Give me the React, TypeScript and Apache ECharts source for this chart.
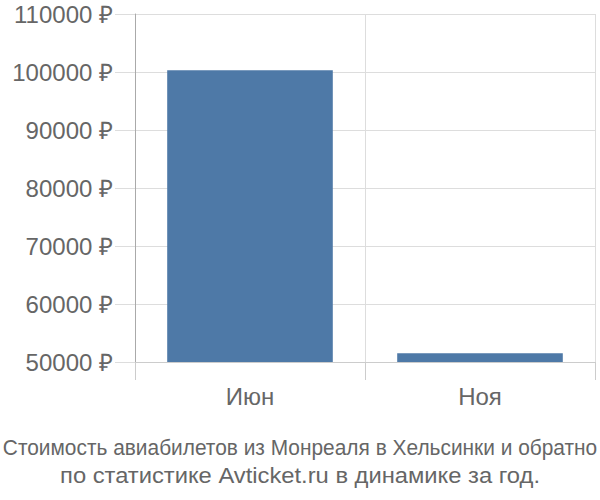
import * as echarts from 'echarts';
import { useEffect, useRef } from 'react';

const months = ['Июн', 'Ноя'];
const prices = [100300, 51500];
const yMin = 50000;
const yMax = 110000;
const yStep = 10000;
const captionLines = [
  'Стоимость авиабилетов из Монреаля в Хельсинки и обратно',
  'по статистике Avticket.ru в динамике за год.'
];

export default function App() {
  const chartRef = useRef<HTMLDivElement>(null);

  useEffect(() => {
    if (!chartRef.current) return;
    document.body.style.margin = '0';
    const chart = echarts.init(chartRef.current, null, { renderer: 'svg' });

    const captionStyle = {
      fontFamily: 'Liberation Sans, Arial, sans-serif',
      fontSize: 22,
      fill: '#666',
      align: 'center',
      verticalAlign: 'middle'
    };

    chart.setOption({
      animation: false,
      textStyle: { fontFamily: 'Liberation Sans, Arial, sans-serif' },
      grid: { left: 135, right: 5, top: 14, bottom: 138, containLabel: false },
      graphic: [
        {
          type: 'text',
          x: 300,
          y: 448,
          scaleX: 0.95,
          style: { ...captionStyle, text: captionLines[0] }
        },
        {
          type: 'text',
          x: 300,
          y: 475,
          scaleX: 1.08,
          style: { ...captionStyle, text: captionLines[1] }
        }
      ],
      xAxis: {
        type: 'category',
        data: months,
        axisLine: { show: true, lineStyle: { color: '#ccc' } },
        axisTick: { show: true, length: 18, lineStyle: { color: '#ccc' } },
        splitLine: { show: true, lineStyle: { color: '#ddd' } },
        axisLabel: { color: '#666', fontSize: 24, margin: 22 }
      },
      yAxis: {
        type: 'value',
        min: yMin,
        max: yMax,
        interval: yStep,
        axisLine: { show: true, lineStyle: { color: '#aaa' } },
        axisTick: { show: true, length: 20, lineStyle: { color: '#ddd' } },
        splitLine: { show: true, lineStyle: { color: '#ddd' } },
        axisLabel: {
          color: '#666',
          fontSize: 24,
          margin: 22,
          formatter: (v: number) => `${v} ₽`
        }
      },
      series: [
        {
          type: 'bar',
          data: prices,
          barWidth: '72%',
          itemStyle: { color: '#4e79a7' }
        }
      ]
    });

    return () => chart.dispose();
  }, []);

  return <div ref={chartRef} style={{ width: 600, height: 500 }} />;
}
